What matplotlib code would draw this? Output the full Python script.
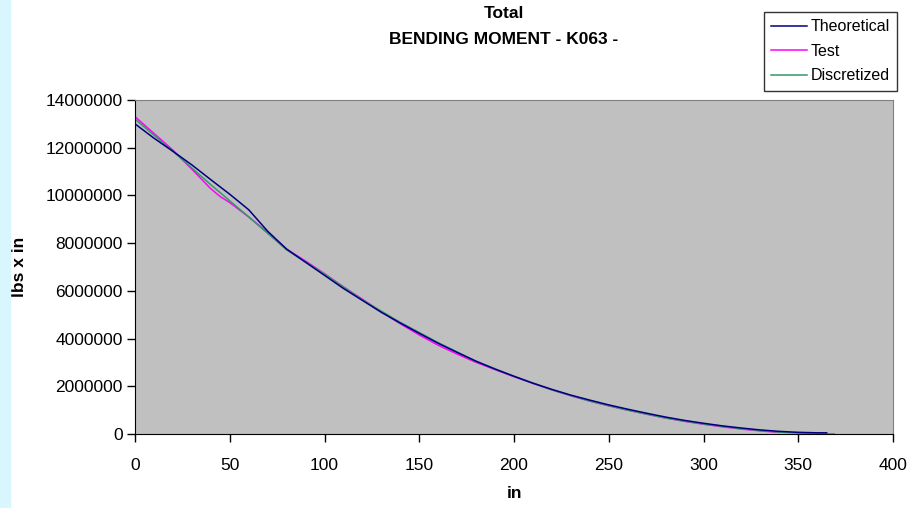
import matplotlib
matplotlib.use("Agg")
import matplotlib.pyplot as plt
from matplotlib.patches import Rectangle
from matplotlib.ticker import FuncFormatter

plt.rcParams['font.family'] = ['Liberation Sans', 'DejaVu Sans']

# Theoretical bending moment (lbs x in) along span (in)
theoX = [0, 10, 20, 30, 40, 50, 60, 70, 80, 90, 100, 110, 120, 130, 140, 150, 160, 170, 180,
         190, 200, 210, 220, 230, 240, 250, 260, 270, 280, 290, 300, 310, 320, 330, 340, 350,
         360, 365]
theoY = [13.0e6, 12.4e6, 11.85e6, 11.28e6, 10.66e6, 10.05e6, 9.4e6, 8.5e6, 7.75e6, 7.2e6,
         6.65e6, 6.1e6, 5.6e6, 5.1e6, 4.65e6, 4.22e6, 3.8e6, 3.42e6, 3.05e6, 2.72e6, 2.42e6,
         2.13e6, 1.87e6, 1.63e6, 1.42e6, 1.22e6, 1.04e6, 0.87e6, 0.71e6, 0.57e6, 0.45e6,
         0.34e6, 0.25e6, 0.17e6, 0.11e6, 0.07e6, 0.05e6, 0.05e6]

# Test
testX = [0, 10, 20, 30, 40, 45, 50, 60, 70, 80, 90, 100, 110, 120, 130, 140, 150, 160, 170,
         180, 190, 200, 210, 220, 230, 240, 250, 260, 270, 280, 290, 300, 310, 320, 330, 340]
testY = [13.3e6, 12.6e6, 11.9e6, 11.1e6, 10.28e6, 9.95e6, 9.7e6, 9.1e6, 8.45e6, 7.75e6,
         7.25e6, 6.72e6, 6.17e6, 5.65e6, 5.12e6, 4.62e6, 4.15e6, 3.72e6, 3.35e6, 3.0e6,
         2.7e6, 2.4e6, 2.12e6, 1.85e6, 1.6e6, 1.38e6, 1.18e6, 1.0e6, 0.83e6, 0.67e6, 0.53e6,
         0.41e6, 0.3e6, 0.21e6, 0.13e6, 0.07e6]

# Discretized
discX = [0, 20, 40, 60, 80, 100, 120, 140, 160, 180, 200, 220, 240, 260, 280, 300, 320, 340,
         355, 369]
discY = [13.2e6, 11.85e6, 10.45e6, 9.1e6, 7.72e6, 6.7e6, 5.62e6, 4.68e6, 3.83e6, 3.05e6,
         2.42e6, 1.85e6, 1.38e6, 1.0e6, 0.67e6, 0.42e6, 0.22e6, 0.08e6, 0.02e6, 0.0]

W, H = 913, 508
fig = plt.figure(figsize=(W / 100, H / 100), dpi=100)
# light cyan strip on the left edge
fig.patches.append(Rectangle((0, 0), 10 / W, 1, transform=fig.transFigure,
                             color='#D9F5FD', zorder=0))
ax = fig.add_axes([135 / W, 74 / H, 758 / W, 334 / H])
ax.set_facecolor('#C0C0C0')

ax.plot(testX, testY, color='#FF00FF', lw=1.1, label='Test')
ax.plot(discX, discY, color='#339966', lw=1.1, label='Discretized')
ax.plot(theoX, theoY, color='#000080', lw=1.1, label='Theoretical')

ax.set_xlim(0, 400)
ax.set_ylim(0, 14e6)
ax.set_xticks(range(0, 401, 50))
ax.set_yticks([i * 2e6 for i in range(8)])
ax.yaxis.set_major_formatter(FuncFormatter(lambda v, p: '%d' % v))
ax.tick_params(direction='out', length=6, width=1, labelsize=12.5, color='black')
ax.tick_params(axis='x', pad=11)
ax.tick_params(axis='y', pad=3)
for s in ('top', 'right'):
    ax.spines[s].set_color('#808080')
for s in ('left', 'bottom'):
    ax.spines[s].set_color('black')

ax.set_xlabel('in', fontsize=12.5, fontweight='bold', va='center')
ax.xaxis.set_label_coords(0.5, (434 - 493) / 334)
ax.set_ylabel('lbs x in', fontsize=12.5, fontweight='bold', va='center')
ax.yaxis.set_label_coords((19 - 135) / 758, 0.5)

fig.text(504 / W, 1 - 14 / H, 'Total', ha='center', va='center', fontsize=12.5,
         fontweight='bold')
fig.text(504 / W, 1 - 39 / H, 'BENDING MOMENT - K063 -', ha='center', va='center',
         fontsize=12.5, fontweight='bold')

handles, labels = ax.get_legend_handles_labels()
order = [2, 0, 1]
leg = fig.legend([handles[i] for i in order], [labels[i] for i in order],
                 loc='upper right', bbox_to_anchor=(897 / W, 1 - 12 / H),
                 fontsize=11.5, frameon=True, fancybox=False, handlelength=2.2,
                 handletextpad=0.25, borderpad=0.45, labelspacing=0.6, borderaxespad=0)
leg.get_frame().set_edgecolor('black')
leg.get_frame().set_linewidth(1)

fig.savefig('out.png', dpi=100)
